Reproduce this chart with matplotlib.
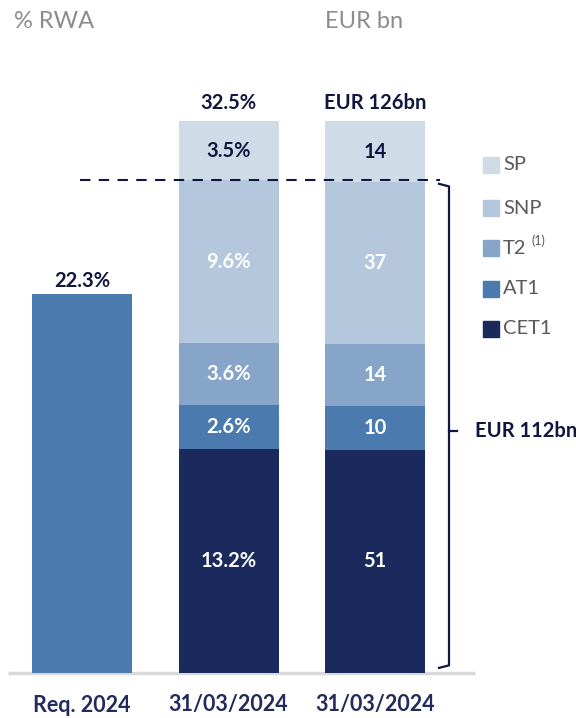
import numpy as np
import matplotlib
matplotlib.use("Agg")
import matplotlib.pyplot as plt
from matplotlib.patches import Rectangle

plt.rcParams['font.family'] = ['Lato', 'DejaVu Sans']

# data
categories = ["Req. 2024", "31/03/2024", "31/03/2024"]
req_value = 22.3
layers = ["CET1", "AT1", "T2", "SNP", "SP"]
pct_values = [13.2, 2.6, 3.6, 9.6, 3.5]
eur_values = [51, 10, 14, 37, 14]
pct_total = "32.5%"
eur_total = "EUR 126bn"
mrel_label = "EUR 112bn"
legend_order = ["SP", "SNP", "T2", "AT1", "CET1"]

colors = ["#1B2A5C", "#4A7AAE", "#86A5C8", "#B5C7DD", "#CFDCE8"]
label_colors = ["white", "white", "white", "white", "#10163F"]
navy = "#10163F"

W, H = 576, 718
fig = plt.figure(figsize=(W / 100, H / 100), dpi=100)
ax = fig.add_axes([0, 0, 1, 1])
ax.axis("off")

# axis scaling: baseline at px 673, 32.5% at px 121
base_px = 673
ppu = (673 - 121) / sum(pct_values)
ax.set_ylim(-(H - base_px) / ppu, base_px / ppu)
x0_px, step_px = 82, 146.5
ax.set_xlim(-x0_px / step_px, (W - x0_px) / step_px)
bw = 100 / step_px

def px(x, y):
    return x / W, 1 - y / H

lab_fs = 14.5

# Req bar
ax.bar(0, req_value, width=bw, color=colors[1])
ax.text(0, req_value + 0.2, f"{req_value}%", ha="center", va="bottom",
        fontsize=lab_fs, fontweight="bold", color=navy)

# stacked bars
scale = sum(pct_values) / sum(eur_values)
eur_scaled = [v * scale for v in eur_values]
bottom_p, bottom_e = 0, 0
for i, name in enumerate(layers):
    ax.bar(1, pct_values[i], bottom=bottom_p, width=bw, color=colors[i])
    ax.bar(2, eur_scaled[i], bottom=bottom_e, width=bw, color=colors[i])
    ax.text(1, bottom_p + pct_values[i] / 2, f"{pct_values[i]}%", ha="center", va="center",
            fontsize=lab_fs, fontweight="bold", color=label_colors[i])
    ax.text(2, bottom_e + eur_scaled[i] / 2, f"{eur_values[i]}", ha="center", va="center",
            fontsize=lab_fs, fontweight="bold", color=label_colors[i])
    bottom_p += pct_values[i]
    bottom_e += eur_scaled[i]

ax.text(1, bottom_p + 0.5, pct_total, ha="center", va="bottom",
        fontsize=lab_fs, fontweight="bold", color=navy)
ax.text(2, bottom_e + 0.5, eur_total, ha="center", va="bottom",
        fontsize=lab_fs, fontweight="bold", color=navy)

# baseline
ax.plot([-74 / step_px, (475 - x0_px) / step_px], [0, 0], color="#D9D9D9", lw=2.5,
        solid_capstyle="butt", zorder=0)

# dashed line at top of SNP
snp_top = sum(pct_values[:4])
ax.plot([(80 - x0_px) / step_px, (440 - x0_px) / step_px], [snp_top, snp_top],
        color=navy, lw=1.5, ls=(0, (5, 4)))

# bracket
bx = (449 - x0_px) / step_px
hook = 10 / step_px
top_b, bot_b = snp_top - 0.2, 0.3
mid_b = (top_b + bot_b) / 2 - 0.3
ax.plot([bx - hook, bx, bx, bx - hook], [top_b, top_b - 0.15, bot_b + 0.15, bot_b],
        color=navy, lw=1.6)
ax.plot([bx, bx + 0.8 * hook], [mid_b, mid_b], color=navy, lw=1.6)
ax.text(bx + 26 / step_px, mid_b, mrel_label, ha="left", va="center",
        fontsize=lab_fs, fontweight="bold", color=navy)

# x labels
for i, c in enumerate(categories):
    ax.text(i, -(705 - base_px) / ppu, c, ha="center", va="center",
            fontsize=15.5, fontweight="bold", color="#232A5C")

# headers
fig.text(*px(14, 21), "% RWA", ha="left", va="center", fontsize=17, color="#8C8C8C")
fig.text(*px(325, 21), "EUR bn", ha="left", va="center", fontsize=17, color="#8C8C8C")

# legend
leg_y = [165, 208, 248, 289, 329]
for name, y in zip(legend_order, leg_y):
    col = colors[layers.index(name)]
    fig.patches.append(Rectangle(px(483, y + 8), 16 / W, 16 / H, color=col,
                                 transform=fig.transFigure, figure=fig))
    fig.text(*px(503, y), name, ha="left", va="center", fontsize=14.5, color="#5A5A5A")
    if name == "T2":
        fig.text(*px(532, y - 7), "(1)", ha="left", va="center", fontsize=9, color="#5A5A5A")

fig.savefig("out.png", dpi=100)
